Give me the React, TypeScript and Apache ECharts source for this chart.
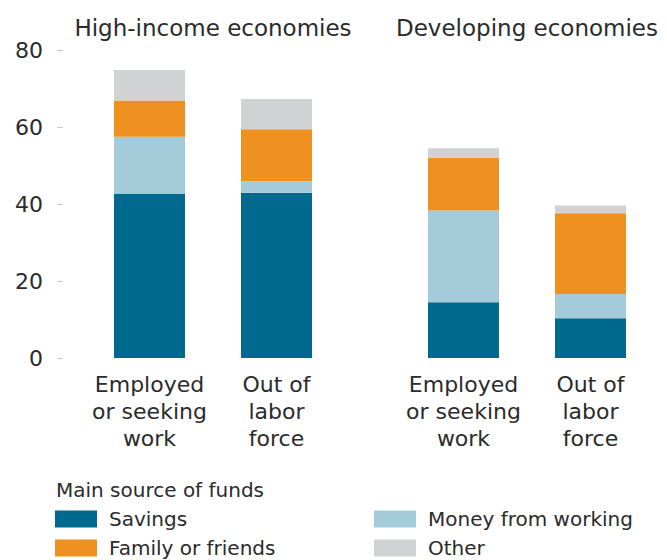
import React, { useEffect, useRef } from "react";
import * as echarts from "echarts";

const groups = ["High-income economies", "Developing economies"];
const categories = ["Employed\nor seeking\nwork", "Out of\nlabor\nforce"];
const yTicks = [0, 20, 40, 60, 80];
const sources = ["Savings", "Money from working", "Family or friends", "Other"];
const colors = ["#006a8e", "#a4cbd9", "#ee9120", "#d1d2d4"];

// values per source: [employed or seeking work, out of labor force]
const highIncomeSavings = [42.6, 42.9];
const highIncomeMoney = [14.9, 3.0];
const highIncomeFamily = [9.4, 13.5];
const highIncomeOther = [7.9, 7.9];

const developingSavings = [14.5, 10.3];
const developingMoney = [23.8, 6.3];
const developingFamily = [13.7, 21.0];
const developingOther = [2.5, 2.0];

const highIncome = [highIncomeSavings, highIncomeMoney, highIncomeFamily, highIncomeOther];
const developing = [developingSavings, developingMoney, developingFamily, developingOther];

const FONT = "'DejaVu Sans', sans-serif";
const TEXT = "#2b2b2b";

export default function App() {
  const ref = useRef<HTMLDivElement>(null);
  useEffect(() => {
    document.body.style.margin = "0";
    const chart = echarts.init(ref.current!, null, { renderer: "svg" });
    const series: any[] = [];
    [highIncome, developing].forEach((grp, gi) => {
      grp.forEach((vals, si) => {
        series.push({
          name: sources[si],
          type: "bar",
          stack: "g" + gi,
          xAxisIndex: gi,
          yAxisIndex: gi,
          barWidth: 71,
          data: vals,
          itemStyle: { color: colors[si] },
        });
      });
    });
    const xAxisBase = (gi: number) => ({
      type: "category",
      gridIndex: gi,
      data: categories,
      axisLine: { show: false },
      axisTick: { show: false },
      axisLabel: {
        fontFamily: FONT,
        fontSize: 22,
        color: TEXT,
        lineHeight: 27,
        margin: 13,
        interval: 0,
      },
    });
    const yAxisBase = (gi: number) => ({
      type: "value",
      gridIndex: gi,
      min: yTicks[0],
      max: yTicks[yTicks.length - 1],
      interval: yTicks[1] - yTicks[0],
      offset: 23,
      splitLine: { show: false },
      axisLine: { show: false },
      axisTick: { show: gi === 0, length: 6, lineStyle: { color: "#c8c8c8" } },
      axisLabel: {
        show: gi === 0,
        fontFamily: FONT,
        fontSize: 22,
        color: TEXT,
        margin: 20,
      },
    });
    const legendBase = (left: number, data: string[]) => ({
      orient: "vertical",
      left,
      top: 509,
      height: 70,
      padding: 0,
      itemWidth: 42,
      itemHeight: 17,
      itemGap: 9,
      icon: "rect",
      data,
      textStyle: { fontFamily: FONT, fontSize: 20, color: TEXT, lineHeight: 20, padding: [0, 0, 0, 7] },
      selectedMode: false,
    });
    chart.setOption({
      animation: false,
      grid: [
        { left: 86, width: 254, top: 50, height: 308 },
        { left: 400, width: 254, top: 50, height: 308 },
      ],
      xAxis: [xAxisBase(0), xAxisBase(1)],
      yAxis: [yAxisBase(0), yAxisBase(1)],
      legend: [
        legendBase(55, [sources[0], sources[2]]),
        legendBase(374, [sources[1], sources[3]]),
      ],
      graphic: [
        {
          type: "text",
          x: 213,
          y: 28,
          style: { text: groups[0], fontFamily: FONT, fontSize: 23, fill: TEXT, textAlign: "center", textVerticalAlign: "middle" },
        },
        {
          type: "text",
          x: 527,
          y: 28,
          style: { text: groups[1], fontFamily: FONT, fontSize: 23, fill: TEXT, textAlign: "center", textVerticalAlign: "middle" },
        },
        {
          type: "text",
          x: 56,
          y: 490,
          style: { text: "Main source of funds", fontFamily: FONT, fontSize: 20, fill: TEXT, textAlign: "left", textVerticalAlign: "middle" },
        },
      ],
      series,
    });
    return () => chart.dispose();
  }, []);
  return <div ref={ref} style={{ width: 667, height: 560 }} />;
}
